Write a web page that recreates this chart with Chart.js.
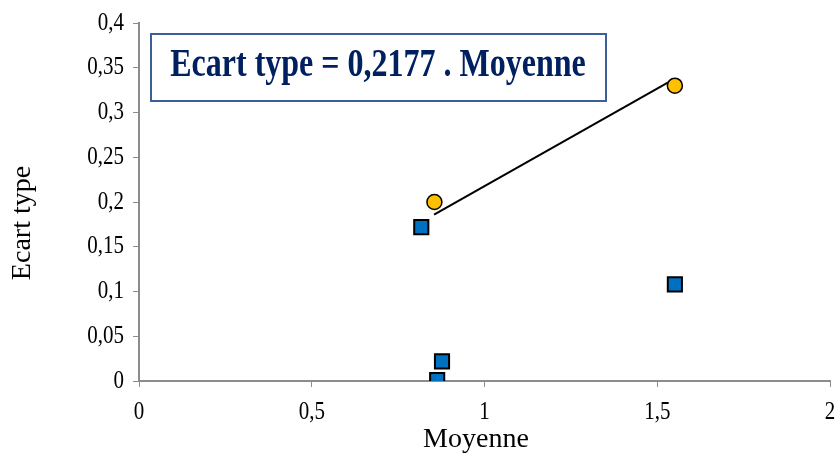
<!DOCTYPE html>
<html>
<head>
<meta charset="utf-8">
<script src="https://cdn.jsdelivr.net/npm/chart.js@4"></script>
<style>
  html, body { margin: 0; padding: 0; background: #fff; }
  #wrap { width: 836px; height: 454px; }
</style>
</head>
<body>
<div id="wrap"><canvas id="chart" width="836" height="454"></canvas></div>
<script>
// Data
let moyenneCercles = [0.855, 1.551];
let ecartCercles = [0.200, 0.330];

let moyenneCarres = [0.817, 0.877, 0.863, 1.551];
let ecartCarres = [0.172, 0.022, 0.001, 0.108];

// trend line end points
let moyenneTendance = [0.854, 1.542];
let ecartTendance = [0.186, 0.336];

let titreBoite = 'Ecart type = 0,2177 . Moyenne';
let titreX = 'Moyenne';
let titreY = 'Ecart type';

function toPoints(xs, ys) {
    return xs.map(function(x, i) { return { x: x, y: ys[i] }; });
}

function virgule(v) {
    return (Math.round(v * 100) / 100).toString().replace('.', ',');
}

// text in the picture is a bit taller than wide, draw it stretched
function texteEtire(ctx, txt, x, y, stretch) {
    ctx.save();
    ctx.translate(x, y);
    ctx.scale(1, stretch);
    ctx.fillText(txt, 0, 0);
    ctx.restore();
}

// tick labels, axis titles and the text box
let textPlugin = {
    id: 'textPlugin',
    afterDraw: function(chart) {
        let ctx = chart.ctx;
        let xs = chart.scales.x;
        let ys = chart.scales.y;
        ctx.save();
        ctx.fillStyle = '#000';
        ctx.textBaseline = 'middle';

        ctx.font = '21px "Liberation Serif"';
        ctx.textAlign = 'right';
        ys.ticks.forEach(function(t) {
            texteEtire(ctx, virgule(t.value), 124, ys.getPixelForValue(t.value), 1.2);
        });
        ctx.textAlign = 'center';
        xs.ticks.forEach(function(t) {
            texteEtire(ctx, virgule(t.value), xs.getPixelForValue(t.value), 412, 1.2);
        });

        ctx.font = '28px "Liberation Serif"';
        ctx.fillText(titreX, 476, 440);
        ctx.save();
        ctx.translate(23, 223);
        ctx.rotate(-Math.PI / 2);
        ctx.fillText(titreY, 0, 0);
        ctx.restore();

        // box
        ctx.fillStyle = '#ffffff';
        ctx.fillRect(151, 34, 455, 67);
        ctx.strokeStyle = '#3b5f98';
        ctx.lineWidth = 2;
        ctx.strokeRect(151, 34, 455, 67);
        ctx.fillStyle = '#002060';
        ctx.font = 'bold 32px "Liberation Serif"';
        texteEtire(ctx, titreBoite, 378, 66, 1.25);
        ctx.restore();
    }
};

let ctx = document.getElementById('chart').getContext('2d');

let chart = new Chart(ctx, {
    type: 'scatter',
    data: {
        datasets: [{
            label: 'Tendance',
            type: 'line',
            data: toPoints(moyenneTendance, ecartTendance),
            borderColor: '#000000',
            borderWidth: 2,
            pointRadius: 0,
            fill: false,
            order: 3
        }, {
            label: 'Cercles',
            data: toPoints(moyenneCercles, ecartCercles),
            pointStyle: 'circle',
            pointRadius: 7.5,
            backgroundColor: '#ffc000',
            borderColor: '#000000',
            borderWidth: 1.5,
            order: 2
        }, {
            label: 'Carres',
            data: toPoints(moyenneCarres, ecartCarres),
            pointStyle: 'rect',
            pointRadius: 10,
            backgroundColor: '#0070c0',
            borderColor: '#000000',
            borderWidth: 2,
            order: 1
        }]
    },
    options: {
        responsive: false,
        animation: false,
        layout: {
            autoPadding: false,
            padding: { top: 23, right: 6, left: 0, bottom: 0 }
        },
        plugins: {
            legend: { display: false },
            tooltip: { enabled: false }
        },
        scales: {
            x: {
                type: 'linear',
                min: 0,
                max: 2,
                ticks: {
                    stepSize: 0.5,
                    display: false
                },
                grid: {
                    drawOnChartArea: false,
                    color: '#8c8c8c',
                    tickLength: 6
                },
                border: { color: '#8c8c8c', width: 2 },
                afterFit: function(scale) { scale.height = 73; }
            },
            y: {
                type: 'linear',
                min: 0,
                max: 0.4,
                ticks: {
                    stepSize: 0.05,
                    display: false
                },
                grid: {
                    drawOnChartArea: false,
                    color: '#8c8c8c',
                    tickLength: 6
                },
                border: { color: '#8c8c8c', width: 2 },
                afterFit: function(scale) { scale.width = 139; }
            }
        }
    },
    plugins: [textPlugin]
});
</script>
</body>
</html>
